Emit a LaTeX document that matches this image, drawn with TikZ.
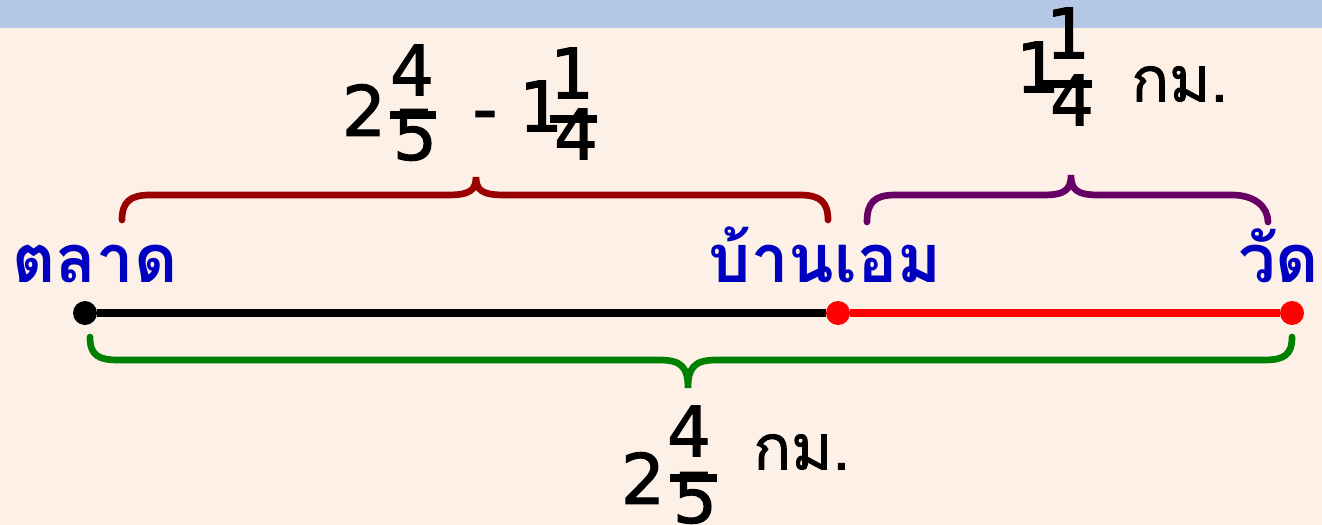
\documentclass[tikz,border=0pt]{standalone}
\usepackage{fontspec}
\newfontfamily\thai[Script=Thai]{Loma}
\newfontfamily\thaiunit[Script=Thai,FakeBold=1.2]{Loma}
\newfontfamily\digs[FakeBold=1.6]{DejaVu Sans}
\definecolor{bgpeach}{HTML}{FDF0E6}
\definecolor{topband}{HTML}{B4C7E7}
\definecolor{placeblue}{HTML}{0000C0}
\definecolor{bracered}{HTML}{990000}
\definecolor{bracepurple}{HTML}{660066}
\definecolor{bracegreen}{HTML}{008000}
\begin{document}
\begin{tikzpicture}[x=0.75pt,y=-0.75pt,
  place/.style={inner sep=0pt,anchor=base,text=placeblue,font=\thai\bfseries\fontsize{50}{50}\selectfont},
  digit/.style={inner sep=0pt,font=\digs\fontsize{52}{52}\selectfont},
  unit/.style={inner sep=0pt,font=\thaiunit\fontsize{47}{47}\selectfont},
  fbar/.style={line width=5.5pt},
  brace/.style={line width=5pt,line cap=round},
  road/.style={line width=5.5pt},
  dot/.style={circle,inner sep=0pt,minimum size=18pt}]
\useasboundingbox (0,0) rectangle (1322,525);
\fill[bgpeach] (0,0) rectangle (1322,525);
\fill[topband] (0,0) rectangle (1322,28);

% road
\node[dot,fill=black] (market) at (85,313) {};
\node[dot,fill=red] (home) at (838,313) {};
\node[dot,fill=red] (temple) at (1292,313) {};
\draw[road,black] (market) -- (home);
\draw[road,red] (home) -- (temple);

% place names
\node[place] (tMarket) at (95,282) {ตลาด};
\node[place] (tHome) at (825,282) {บ้านเอม};
\node[place,anchor=base east] (tTemple) at (1319,282) {วัด};

% braces
\draw[brace,bracered] (122,220) .. controls (122,202) and (130,195) .. (150,195) -- (448,195)
  .. controls (470,195) and (476,190) .. (476,177)
  .. controls (476,190) and (482,195) .. (504,195) -- (800,195)
  .. controls (820,195) and (828,202) .. (828,220);
\draw[brace,bracepurple] (867,222) .. controls (867,202) and (875,195) .. (895,195) -- (1043,195)
  .. controls (1065,195) and (1071,190) .. (1071,175)
  .. controls (1071,190) and (1077,195) .. (1099,195) -- (1232,195)
  .. controls (1256,195) and (1268,208) .. (1268,222);
\draw[brace,bracegreen] (90,337) .. controls (90,355) and (98,360) .. (118,360) -- (660,360)
  .. controls (682,360) and (688,368) .. (688,388)
  .. controls (688,368) and (694,360) .. (716,360) -- (1264,360)
  .. controls (1284,360) and (1292,355) .. (1292,337);

% top-left label: 2 4/5 - 1 1/4
\node[digit] (aWhole) at (364,110) {2};
\node[digit] (aNum) at (412,70) {4};
\node[digit] (aDen) at (415,135) {5};
\draw[fbar] (390,115) -- (436,115);
\node[digit,anchor=base] (aMinus) at (485,133) {-};
\node[digit] (bWhole) at (541,106) {1};
\node[digit] (bNum) at (572,73) {1};
\node[digit] (bDen) at (576,134) {4};
\draw[fbar] (550,119) -- (597,119);

% top-right label: 1 1/4 km
\node[digit] (cWhole) at (1038,67) {1};
\node[digit] (cNum) at (1068,33) {1};
\node[digit] (cDen) at (1072,100) {4};
\draw[fbar] (1043,84) -- (1092,84);
\node[unit,anchor=west] (cUnit) at (1131,84) {กม.};

% bottom label: 2 4/5 km
\node[digit] (dWhole) at (643,478) {2};
\node[digit] (dNum) at (689,431) {4};
\node[digit] (dDen) at (695,498) {5};
\draw[fbar] (670,478) -- (717,478);
\node[unit,anchor=west] (dUnit) at (753,452) {กม.};
\end{tikzpicture}
\end{document}
